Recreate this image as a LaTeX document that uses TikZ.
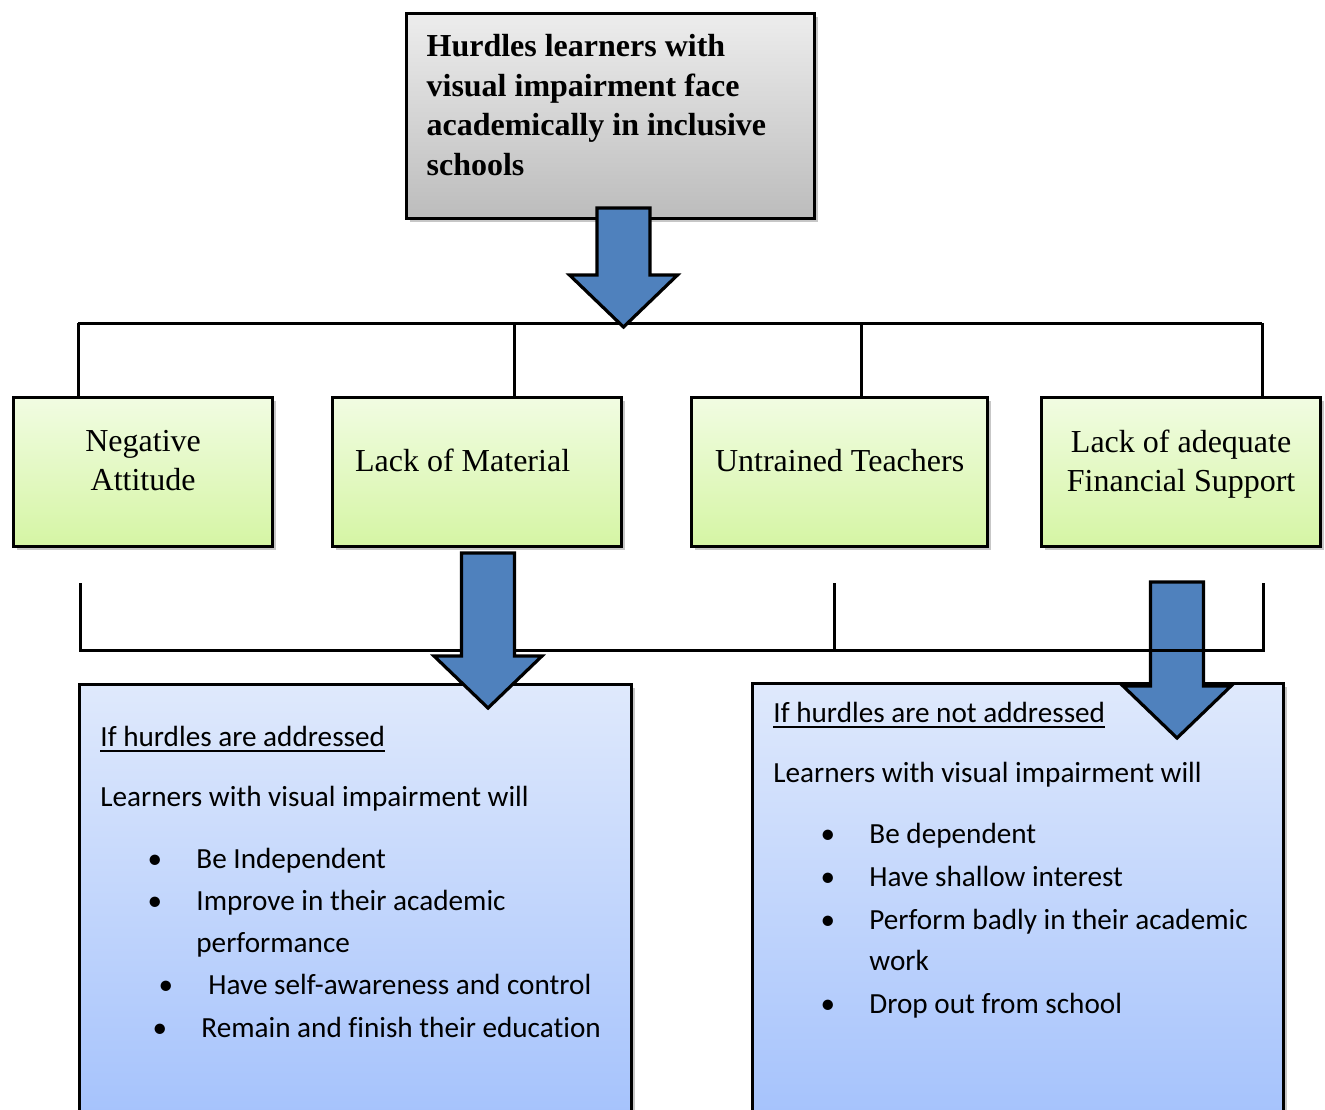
\documentclass[tikz,border=0pt]{standalone}
\usepackage{fontspec}
\setmainfont{Liberation Serif}
\newfontfamily\calfont[Ligatures=NoCommon]{Carlito}
\usetikzlibrary{shadows}
\definecolor{cArrow}{HTML}{4F81BD}
\definecolor{cGrayTop}{HTML}{EDEDED}
\definecolor{cGrayBot}{HTML}{BCBCBC}
\definecolor{cGreenTop}{HTML}{F1FCE2}
\definecolor{cGreenBot}{HTML}{D5F5A4}
\definecolor{cBlueTop}{HTML}{DFE9FC}
\definecolor{cBlueBot}{HTML}{A3C1FC}

% block arrow pointing down: centre x, top y, tip y
\newcommand\hurdlearrow[3]{%
  \draw[blockarr] (#1-26.5,#2) -- (#1+26.5,#2) -- (#1+26.5,#3-52)
    -- (#1+54,#3-52) -- (#1,#3) -- (#1-54,#3-52) -- (#1-26.5,#3-52) -- cycle;}
% thicker underline
\newcommand\hurdleul[1]{\setbox0\hbox{#1}\rlap{\rule[-2.8pt]{\wd0}{0.9pt}}\box0}

\begin{document}
\begin{tikzpicture}[
    x=0.5pt, y=-0.5pt,
    boxline/.style={draw=black, line width=1.6pt,
                    drop shadow={shadow xshift=1.5pt, shadow yshift=-1.5pt,
                                 fill=black, opacity=0.22}},
    titlebox/.style={boxline, top color=cGrayTop, bottom color=cGrayBot,
                     anchor=north west, minimum width=204pt, minimum height=102.5pt,
                     inner xsep=10pt, text width=184pt, align=flush left, text depth=70.5pt,
                     font=\fontsize{16}{19.75}\selectfont\bfseries},
    hurdle/.style={boxline, top color=cGreenTop, bottom color=cGreenBot,
                   anchor=north west, minimum height=74.5pt, align=flush center,
                   text depth=11.5pt, font=\fontsize{16}{19.5}\selectfont},
    outcome/.style={boxline, top color=cBlueTop, bottom color=cBlueBot,
                    anchor=north west, minimum height=225pt},
    blockarr/.style={fill=cArrow, draw=black, line width=1.6pt},
    bus/.style={draw=black, line width=1.5pt},
    txt/.style={font=\calfont\fontsize{14.6}{21}\selectfont, inner sep=0pt,
                anchor=base west},
    dot/.style={txt, anchor=base},
]
\useasboundingbox (0,0) rectangle (1325,1109);

% ----- upper bus -----
\coordinate (busA) at (78,323);
\coordinate (busB) at (514,323);
\coordinate (busC) at (861,323);
\coordinate (busD) at (1262,323);
\draw[bus] (busA) -- (busD);

% ----- title -----
\node[titlebox] (title) at (405,12)
  {Hurdles learners with\\visual impairment face\\academically in inclusive\\schools};
\hurdlearrow{623.5}{208}{327}

% ----- hurdles -----
\node[hurdle, minimum width=129.5pt] (neg) at (12,396) {Negative\\Attitude};
\node[hurdle, minimum width=144.5pt, inner xsep=11pt, text width=122pt, align=flush left]
  (mat) at (331,396) {Lack of Material};
\node[hurdle, minimum width=148pt] (tea) at (690,396) {Untrained Teachers};
\node[hurdle, minimum width=139.5pt] (fin) at (1040,396) {Lack of adequate\\Financial Support};

\draw[bus] (busA) -- (busA |- neg.north);
\draw[bus] (busB) -- (busB |- mat.north);
\draw[bus] (busC) -- (busC |- tea.north);
\draw[bus] (busD) -- (busD |- fin.north);

% ----- outcomes -----
\node[outcome, minimum width=276pt] (yes) at (78,683) {};
\node[outcome, minimum width=265.5pt] (no) at (751,682) {};

\hurdlearrow{1177}{582}{738}

% ----- lower bus -----
\coordinate (lowA) at (80,583);
\coordinate (lowB) at (834,583);
\coordinate (lowC) at (1263,583);
\draw[bus] (lowA) -- (80,650) -- (1263,650) -- (lowC);
\draw[bus] (lowB) -- (834,650);

\hurdlearrow{488}{553}{708}

% ----- if addressed -----
\node[txt] (yesHead) at (100,746) {\hurdleul{If hurdles are addressed}};
\node[txt] (yesLead) at (100,806) {Learners with visual impairment will};
\node[dot] (yesDotA) at (155,868) {•};
\node[txt] (yesA) at (196,868) {Be Independent};
\node[dot] (yesDotB) at (155,910) {•};
\node[txt] (yesB) at (196,910) {Improve in their academic};
\node[txt] (yesB2) at (196,952) {performance};
\node[dot] (yesDotC) at (166,994) {•};
\node[txt] (yesC) at (208,994) {Have self-awareness and control};
\node[dot] (yesDotD) at (160,1037) {•};
\node[txt] (yesD) at (201,1037) {Remain and finish their education};

% ----- if not addressed -----
\node[txt] (noHead) at (773,722) {\hurdleul{If hurdles are not addressed}};
\node[txt] (noLead) at (773,782) {Learners with visual impairment will};
\foreach \y/\t in {843/Be dependent, 886/Have shallow interest,
                   929/Perform badly in their academic, 1013/Drop out from school} {
  \node[dot] (noDot\y) at (828,\y) {•};
  \node[txt] (no\y) at (869,\y) {\t};
}
\node[txt] (no970) at (869,970) {work};

\end{tikzpicture}
\end{document}
